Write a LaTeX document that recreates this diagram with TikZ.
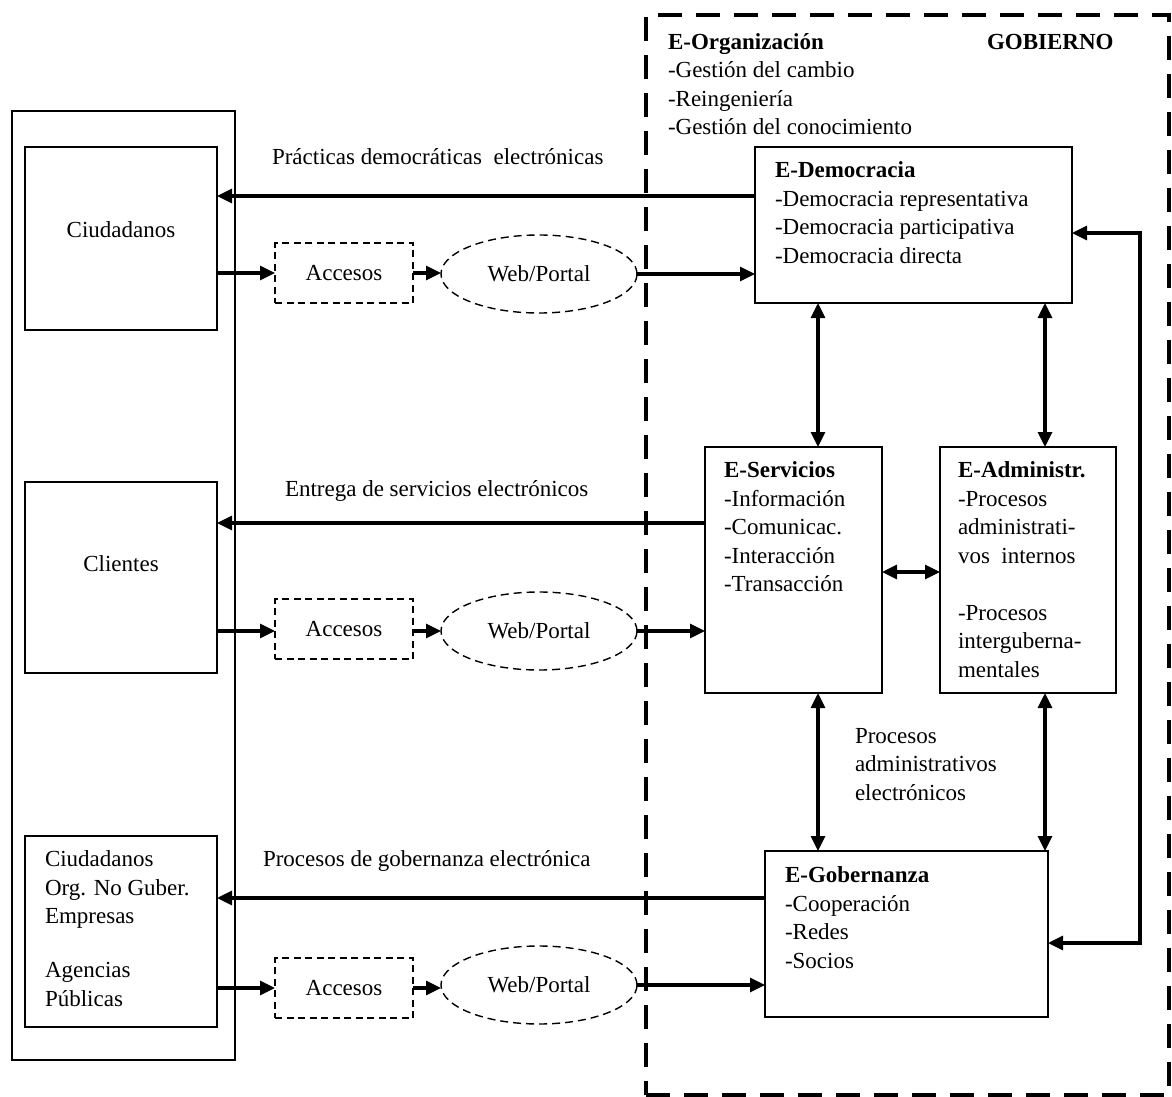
\documentclass[tikz,border=0pt]{standalone}
\usepackage{fontspec}
\setmainfont{Liberation Serif}
\usetikzlibrary{arrows.meta,shapes.geometric}
\begin{document}
\begin{tikzpicture}[x=1pt,y=-1pt,
  every node/.style={font=\fontsize{23}{28.5}\selectfont, inner sep=0pt, outer sep=0pt},
  box/.style={draw, line width=2pt, anchor=north west},
  dbox/.style={draw, dash pattern=on 7pt off 4.5pt, line width=1.4pt, minimum width=138pt, minimum height=60pt},
  dell/.style={ellipse, draw, dash pattern=on 8pt off 5pt, line width=1.4pt, minimum width=196pt, minimum height=78pt},
  conn/.style={line width=3.2pt, -{Triangle[length=15pt,width=14pt]}},
  biconn/.style={line width=3.2pt, {Triangle[length=15pt,width=14pt]}-{Triangle[length=15pt,width=14pt]}},
  txt/.style={anchor=north west, align=left},
  lbl/.style={anchor=west}
]
\fill[white] (0,0) rectangle (1172,1097);
\useasboundingbox (0,0) rectangle (1172,1097);

% government frame
\node[draw, dash pattern=on 24pt off 14pt, line width=3.2pt, anchor=north west,
      minimum width=523pt, minimum height=1080pt] (gobframe) at (646,15) {};

% left column
\node[box, minimum width=223pt, minimum height=949pt] (outer) at (12,111) {};
\node[box, minimum width=192pt, minimum height=183pt] (ciud) at (25,147) {};
\node[box, minimum width=192pt, minimum height=191pt] (cli) at (25,482) {};
\node[box, minimum width=192pt, minimum height=191pt] (org) at (25,836) {};
\node (tciud) at (121,230) {Ciudadanos};
\node (tcli) at (121,564) {Clientes};
\node[txt] (torgs) at (45,851) {Ciudadanos\\Org. No Guber.\\Empresas\\[25.5pt]Agencias\\Públicas};

% access and portals
\node[dbox] (acc1) at (344,273) {Accesos};
\node[dbox] (acc2) at (344,629) {Accesos};
\node[dbox] (acc3) at (344,988) {Accesos};
\node[dell] (web1) at (539,274) {Web/Portal};
\node[dell] (web2) at (539,631) {Web/Portal};
\node[dell] (web3) at (539,985) {Web/Portal};

% government boxes
\node[box, minimum width=317pt, minimum height=156pt] (edem) at (755,147) {};
\node[box, minimum width=177pt, minimum height=246pt] (eserv) at (705,447) {};
\node[box, minimum width=176pt, minimum height=246pt] (eadm) at (940,447) {};
\node[box, minimum width=283pt, minimum height=166pt] (egob) at (765,851) {};

\node[txt] (torg) at (668,33.5) {\textbf{E-Organización}\\-Gestión del cambio\\-Reingeniería\\-Gestión del conocimiento};
\node[anchor=north west] (tgob) at (987,34) {\textbf{GOBIERNO}};
\node[txt] (tdem) at (775,162) {\textbf{E-Democracia}\\-Democracia representativa\\-Democracia participativa\\-Democracia directa};
\node[txt] (tserv) at (724,462) {\textbf{E-Servicios}\\-Información\\-Comunicac.\\-Interacción\\-Transacción};
\node[txt] (tadm) at (958,462) {\textbf{E-Administr.}\\-Procesos\\administrati-\\vos\ \ internos\\[28.5pt]-Procesos\\interguberna-\\mentales};
\node[txt] (tgobz) at (785,867) {\textbf{E-Gobernanza}\\-Cooperación\\-Redes\\-Socios};
\node[txt] (tpae) at (855,728) {Procesos\\administrativos\\electrónicos};

% connector labels
\node[lbl] (l1) at (272,157) {Prácticas democráticas\ \ electrónicas};
\node[lbl] (l2) at (285,491) {Entrega de servicios electrónicos};
\node[lbl] (l3) at (263,861) {Procesos de gobernanza electrónica};

% helper coordinates
\coordinate (r1a) at (0,196);
\coordinate (r2a) at (0,523);
\coordinate (r3a) at (0,898);
\coordinate (vx1) at (818,0);
\coordinate (vx2) at (1045,0);
\coordinate (hy) at (0,572);
\coordinate (loopT) at (1140,233);
\coordinate (loopB) at (1140,943);

% row 1
\draw[conn] (edem.west |- r1a) -- (ciud.east |- r1a);
\draw[conn] (ciud.east |- acc1) -- (acc1.west);
\draw[conn] (acc1.east) -- (web1.west |- acc1.east);
\draw[conn] (web1.east) -- (edem.west |- web1.east);
% row 2
\draw[conn] (eserv.west |- r2a) -- (cli.east |- r2a);
\draw[conn] (cli.east |- web2) -- (acc2.west |- web2);
\draw[conn] (acc2.east |- web2) -- (web2.west);
\draw[conn] (web2.east) -- (eserv.west |- web2.east);
% row 3
\draw[conn] (egob.west |- r3a) -- (org.east |- r3a);
\draw[conn] (org.east |- acc3) -- (acc3.west);
\draw[conn] (acc3.east) -- (web3.west |- acc3.east);
\draw[conn] (web3.east) -- (egob.west |- web3.east);

% government internal
\draw[biconn] (edem.south -| vx1) -- (eserv.north -| vx1);
\draw[biconn] (edem.south -| vx2) -- (eadm.north -| vx2);
\draw[biconn] (eserv.south -| vx1) -- (egob.north -| vx1);
\draw[biconn] (eadm.south -| vx2) -- (egob.north -| vx2);
\draw[biconn] (eserv.east |- hy) -- (eadm.west |- hy);
\draw[biconn] (edem.east |- loopT) -- (loopT) -- (loopB) -- (egob.east |- loopB);
\end{tikzpicture}
\end{document}
